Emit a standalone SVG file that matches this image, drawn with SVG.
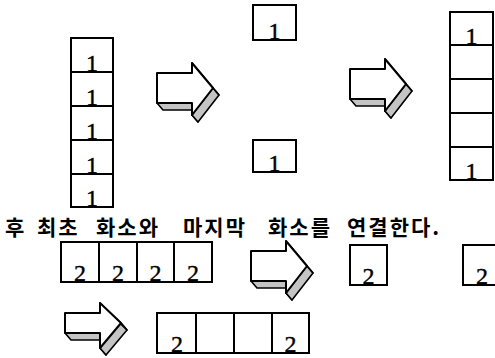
<svg xmlns="http://www.w3.org/2000/svg" width="495" height="358" viewBox="0 0 495 358">
<style>
.cell{fill:#fff;stroke:#000;stroke-width:2}
.d{font-family:"Liberation Serif",serif;font-size:24px;fill:#000;text-anchor:middle;stroke:#000;stroke-width:0.4}
.side{fill:#c4c4c4;stroke:#000;stroke-width:1.6;stroke-linejoin:round}
.front{fill:#fff;stroke:#000;stroke-width:2;stroke-linejoin:round}
.t{font-family:"Noto Sans CJK KR",sans-serif;font-size:21px;font-weight:bold;fill:#000;letter-spacing:2px}
</style>
<defs>
<g id="arrowA">
<polygon class="side" points="0,30 35,30 41,37 6,37"/>
<polygon class="side" points="35,30 35,42 41,49 41,37"/>
<polygon class="side" points="35,42 56,15 62,22 41,49"/>
<polygon class="side" points="56,15 35,-10 41,-3 62,22"/>
<polygon class="front" points="0,0 35,0 35,-10 56,15 35,42 35,30 0,30"/>
</g>
<g id="arrowB">
<polygon class="side" points="0,20 35,20 41,27 6,27"/>
<polygon class="side" points="35,20 35,35 41,42 41,27"/>
<polygon class="side" points="35,35 56,10 62,17 41,42"/>
<polygon class="side" points="56,10 35,-10 41,-3 62,17"/>
<polygon class="front" points="0,0 35,0 35,-10 56,10 35,35 35,20 0,20"/>
</g>
</defs>

<g id="left-column">
<rect class="cell" x="71" y="38" width="42" height="34"/>
<rect class="cell" x="71" y="72" width="42" height="34"/>
<rect class="cell" x="71" y="106" width="42" height="34"/>
<rect class="cell" x="71" y="140" width="42" height="34"/>
<rect class="cell" x="71" y="174" width="42" height="33"/>
<text class="d" x="92" y="71">1</text>
<text class="d" x="92" y="105">1</text>
<text class="d" x="92" y="139">1</text>
<text class="d" x="92" y="173">1</text>
<text class="d" x="92" y="206">1</text>
</g>

<g id="top-box">
<rect class="cell" x="253" y="5" width="43" height="35"/>
<text class="d" x="274.5" y="39">1</text>
</g>
<g id="bottom-box">
<rect class="cell" x="253" y="140" width="43" height="32"/>
<text class="d" x="274.5" y="171">1</text>
</g>

<g id="right-column">
<rect class="cell" x="450" y="12" width="43" height="33"/>
<rect class="cell" x="450" y="45" width="43" height="34"/>
<rect class="cell" x="450" y="79" width="43" height="34"/>
<rect class="cell" x="450" y="113" width="43" height="34"/>
<rect class="cell" x="450" y="147" width="43" height="33"/>
<text class="d" x="471.5" y="44">1</text>
<text class="d" x="471.5" y="179">1</text>
</g>

<g id="caption">
<text class="t" x="5" y="235">후</text>
<text class="t" x="37" y="235">최초</text>
<text class="t" x="96" y="235">화소와</text>
<text class="t" x="183" y="235">마지막</text>
<text class="t" x="268" y="235">화소를</text>
<text class="t" x="347" y="235" letter-spacing="3">연결한다.</text>
</g>

<g id="row-2222">
<rect class="cell" x="61" y="242" width="38" height="40"/>
<rect class="cell" x="99" y="242" width="38" height="40"/>
<rect class="cell" x="137" y="242" width="37" height="40"/>
<rect class="cell" x="174" y="242" width="38" height="40"/>
<text class="d" x="80" y="281" font-size="25">2</text>
<text class="d" x="118" y="281" font-size="25">2</text>
<text class="d" x="155.5" y="281" font-size="25">2</text>
<text class="d" x="193" y="281" font-size="25">2</text>
</g>

<g id="single-2a">
<rect class="cell" x="350" y="245" width="37" height="40"/>
<text class="d" x="368.5" y="284" font-size="25">2</text>
</g>
<g id="single-2b">
<rect class="cell" x="463" y="245" width="40" height="40"/>
<text class="d" x="482" y="284" font-size="25">2</text>
</g>

<g id="row-2__2">
<rect class="cell" x="157" y="313" width="39" height="40"/>
<rect class="cell" x="196" y="313" width="38" height="40"/>
<rect class="cell" x="234" y="313" width="38" height="40"/>
<rect class="cell" x="272" y="313" width="37" height="40"/>
<text class="d" x="177" y="352" font-size="25">2</text>
<text class="d" x="290.5" y="352" font-size="25">2</text>
</g>

<g id="connectors">
<use href="#arrowA" transform="translate(157,73)"/>
<use href="#arrowA" transform="translate(350,69)"/>
<use href="#arrowA" transform="translate(251,251)"/>
<use href="#arrowB" transform="translate(65,313)"/>
</g>
</svg>
